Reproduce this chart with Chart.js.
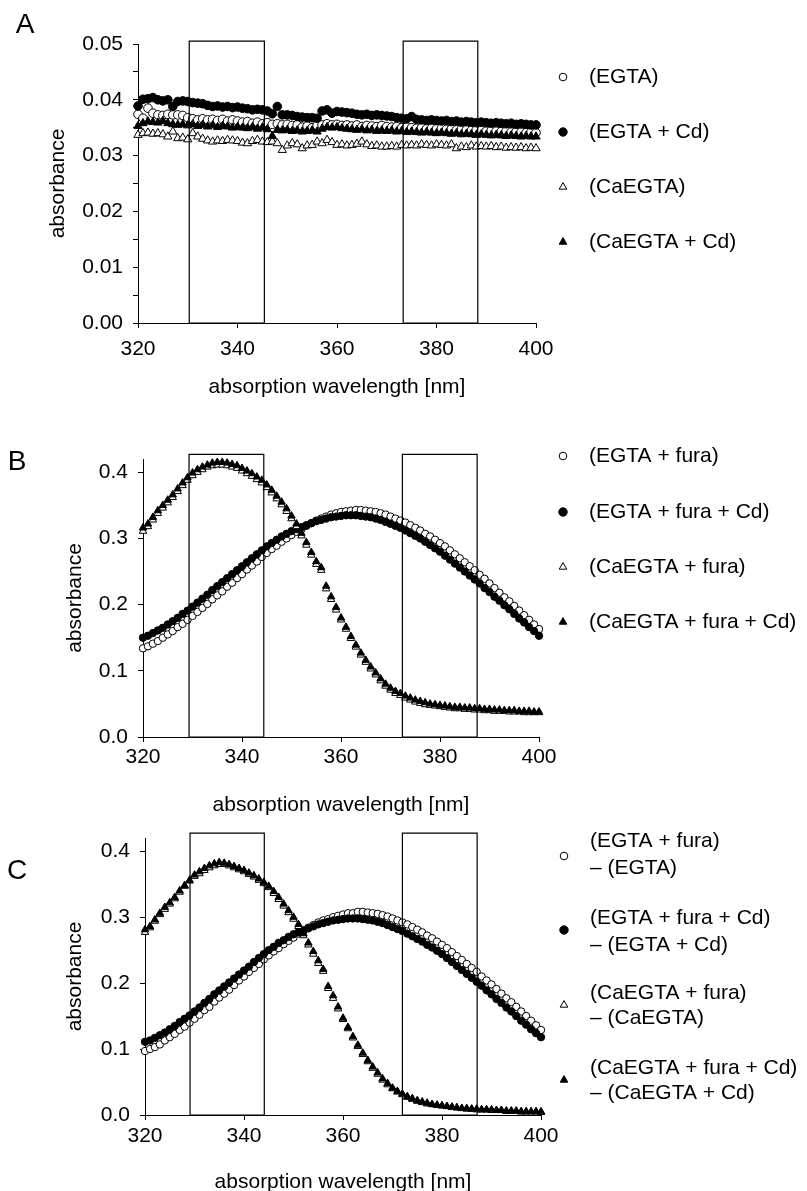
<!DOCTYPE html>
<html>
<head>
<meta charset="utf-8">
<script src="https://cdn.jsdelivr.net/npm/chart.js@4"></script>
<style>
  html, body { margin: 0; padding: 0; background: #fff; overflow: hidden; }
  #page { position: relative; width: 807px; height: 1191px; overflow: hidden; }
  canvas { position: absolute; left: 0; }
</style>
</head>
<body>
<div id="page">
  <canvas id="panelA" width="807" height="400" style="top:0px"></canvas>
  <canvas id="panelB" width="807" height="418" style="top:400px"></canvas>
  <canvas id="panelC" width="807" height="405" style="top:790px"></canvas>
</div>
<script>
// wavelengths, 1 nm steps
const wavelength = [
  320, 321, 322, 323, 324, 325, 326, 327, 328, 329,
  330, 331, 332, 333, 334, 335, 336, 337, 338, 339,
  340, 341, 342, 343, 344, 345, 346, 347, 348, 349,
  350, 351, 352, 353, 354, 355, 356, 357, 358, 359,
  360, 361, 362, 363, 364, 365, 366, 367, 368, 369,
  370, 371, 372, 373, 374, 375, 376, 377, 378, 379,
  380, 381, 382, 383, 384, 385, 386, 387, 388, 389,
  390, 391, 392, 393, 394, 395, 396, 397, 398, 399,
  400
];

// panel A: buffers without fura
const aEGTA = [
  0.0374, 0.0367, 0.0385, 0.0376, 0.0373, 0.0372, 0.0374, 0.0373, 0.0373, 0.0372,
  0.0368, 0.0366, 0.0364, 0.0366, 0.0364, 0.0365, 0.0363, 0.0365, 0.0362, 0.0364,
  0.0362, 0.0360, 0.0361, 0.0358, 0.0360, 0.0357, 0.0359, 0.0356, 0.0357, 0.0355,
  0.0356, 0.0354, 0.0355, 0.0351, 0.0353, 0.0350, 0.0354, 0.0355, 0.0357, 0.0355,
  0.0356, 0.0354, 0.0355, 0.0353, 0.0355, 0.0352, 0.0354, 0.0353, 0.0352, 0.0354,
  0.0352, 0.0351, 0.0352, 0.0350, 0.0351, 0.0350, 0.0349, 0.0350, 0.0348, 0.0349,
  0.0348, 0.0349, 0.0347, 0.0348, 0.0346, 0.0347, 0.0346, 0.0345, 0.0346, 0.0345,
  0.0344, 0.0345, 0.0344, 0.0343, 0.0344, 0.0342, 0.0343, 0.0342, 0.0341, 0.0342,
  0.0341
];
const aEGTACd = [
  0.0389, 0.0401, 0.0402, 0.0404, 0.0400, 0.0398, 0.0400, 0.0388, 0.0397, 0.0398,
  0.0397, 0.0395, 0.0394, 0.0393, 0.0390, 0.0388, 0.0389, 0.0387, 0.0388, 0.0386,
  0.0387, 0.0385, 0.0384, 0.0382, 0.0383, 0.0382, 0.0380, 0.0375, 0.0388, 0.0373,
  0.0373, 0.0372, 0.0370, 0.0369, 0.0368, 0.0368, 0.0367, 0.0380, 0.0382, 0.0376,
  0.0379, 0.0378, 0.0377, 0.0376, 0.0374, 0.0373, 0.0374, 0.0372, 0.0373, 0.0372,
  0.0371, 0.0370, 0.0368, 0.0367, 0.0366, 0.0370, 0.0365, 0.0364, 0.0363, 0.0364,
  0.0363, 0.0362, 0.0363, 0.0361, 0.0362, 0.0360, 0.0361, 0.0360, 0.0359, 0.0360,
  0.0359, 0.0358, 0.0359, 0.0358, 0.0357, 0.0358, 0.0356, 0.0357, 0.0356, 0.0355,
  0.0355
];
const aCaEGTA = [
  0.0337, 0.0340, 0.0341, 0.0339, 0.0340, 0.0338, 0.0334, 0.0343, 0.0331, 0.0332,
  0.0329, 0.0340, 0.0334, 0.0330, 0.0327, 0.0325, 0.0327, 0.0326, 0.0328, 0.0327,
  0.0326, 0.0323, 0.0322, 0.0326, 0.0328, 0.0325, 0.0324, 0.0325, 0.0322, 0.0310,
  0.0318, 0.0322, 0.0320, 0.0313, 0.0318, 0.0319, 0.0325, 0.0322, 0.0328, 0.0324,
  0.0319, 0.0320, 0.0318, 0.0319, 0.0321, 0.0325, 0.0320, 0.0317, 0.0318, 0.0316,
  0.0316, 0.0317, 0.0316, 0.0319, 0.0318, 0.0319, 0.0318, 0.0320, 0.0319, 0.0318,
  0.0320, 0.0319, 0.0318, 0.0320, 0.0313, 0.0316, 0.0315, 0.0318, 0.0316, 0.0317,
  0.0316, 0.0317, 0.0315, 0.0316, 0.0314, 0.0315, 0.0314, 0.0315, 0.0313, 0.0314,
  0.0313
];
const aCaEGTACd = [
  0.0353, 0.0358, 0.0361, 0.0360, 0.0359, 0.0362, 0.0358, 0.0356, 0.0355, 0.0356,
  0.0354, 0.0356, 0.0353, 0.0355, 0.0352, 0.0354, 0.0351, 0.0353, 0.0352, 0.0350,
  0.0351, 0.0350, 0.0349, 0.0351, 0.0348, 0.0350, 0.0347, 0.0335, 0.0346, 0.0345,
  0.0346, 0.0344, 0.0345, 0.0343, 0.0344, 0.0345, 0.0343, 0.0348, 0.0351, 0.0350,
  0.0351, 0.0349, 0.0348, 0.0347, 0.0346, 0.0347, 0.0345, 0.0346, 0.0344, 0.0345,
  0.0344, 0.0345, 0.0343, 0.0344, 0.0342, 0.0343, 0.0342, 0.0341, 0.0342, 0.0341,
  0.0340, 0.0341, 0.0340, 0.0339, 0.0340, 0.0338, 0.0339, 0.0338, 0.0337, 0.0338,
  0.0337, 0.0336, 0.0337, 0.0336, 0.0335, 0.0336, 0.0335, 0.0334, 0.0335, 0.0334,
  0.0334
];

// panel B: buffers with fura
const bEGTAFura = [
  0.134, 0.137, 0.141, 0.145, 0.150, 0.155, 0.160, 0.166, 0.171, 0.177,
  0.183, 0.189, 0.195, 0.201, 0.208, 0.214, 0.220, 0.227, 0.233, 0.240,
  0.246, 0.253, 0.259, 0.265, 0.272, 0.278, 0.284, 0.289, 0.295, 0.300,
  0.305, 0.310, 0.314, 0.319, 0.323, 0.327, 0.330, 0.333, 0.336, 0.338,
  0.340, 0.341, 0.342, 0.343, 0.343, 0.342, 0.341, 0.340, 0.338, 0.336,
  0.333, 0.330, 0.327, 0.324, 0.320, 0.316, 0.312, 0.307, 0.303, 0.298,
  0.293, 0.288, 0.282, 0.276, 0.270, 0.264, 0.258, 0.252, 0.245, 0.239,
  0.232, 0.225, 0.218, 0.211, 0.205, 0.198, 0.191, 0.184, 0.177, 0.170,
  0.163
];
const bEGTAFuraCd = [
  0.150, 0.153, 0.157, 0.161, 0.165, 0.170, 0.175, 0.180, 0.186, 0.191,
  0.197, 0.203, 0.209, 0.215, 0.222, 0.228, 0.234, 0.240, 0.246, 0.252,
  0.258, 0.264, 0.270, 0.276, 0.282, 0.288, 0.293, 0.298, 0.303, 0.307,
  0.311, 0.314, 0.317, 0.320, 0.323, 0.326, 0.328, 0.330, 0.332, 0.333,
  0.334, 0.335, 0.335, 0.335, 0.334, 0.333, 0.332, 0.330, 0.328, 0.325,
  0.322, 0.319, 0.316, 0.312, 0.308, 0.304, 0.300, 0.295, 0.290, 0.285,
  0.280, 0.274, 0.268, 0.262, 0.256, 0.250, 0.244, 0.238, 0.232, 0.225,
  0.219, 0.212, 0.206, 0.199, 0.193, 0.186, 0.179, 0.173, 0.166, 0.160,
  0.153
];
const bCaEGTAFura = [
  0.311, 0.318, 0.328, 0.338, 0.346, 0.354, 0.362, 0.371, 0.380, 0.388,
  0.395, 0.400, 0.404, 0.408, 0.410, 0.411, 0.411, 0.410, 0.408, 0.406,
  0.402, 0.398, 0.394, 0.389, 0.384, 0.377, 0.369, 0.360, 0.351, 0.341,
  0.330, 0.318, 0.304, 0.290, 0.275, 0.261, 0.252, 0.224, 0.208, 0.192,
  0.177, 0.163, 0.149, 0.136, 0.124, 0.113, 0.103, 0.094, 0.085, 0.077,
  0.071, 0.066, 0.063, 0.059, 0.056, 0.053, 0.051, 0.049, 0.048, 0.047,
  0.046, 0.045, 0.044, 0.043, 0.043, 0.042, 0.042, 0.041, 0.041, 0.040,
  0.040, 0.039, 0.039, 0.039, 0.038, 0.038, 0.038, 0.037, 0.037, 0.037,
  0.037
];
const bCaEGTAFuraCd = [
  0.316, 0.322, 0.332, 0.342, 0.350, 0.358, 0.366, 0.375, 0.384, 0.392,
  0.399, 0.404, 0.408, 0.411, 0.414, 0.415, 0.415, 0.414, 0.412, 0.410,
  0.406, 0.402, 0.398, 0.393, 0.388, 0.381, 0.373, 0.364, 0.355, 0.345,
  0.334, 0.322, 0.308, 0.294, 0.279, 0.265, 0.256, 0.228, 0.212, 0.196,
  0.180, 0.166, 0.152, 0.139, 0.127, 0.116, 0.106, 0.097, 0.088, 0.080,
  0.074, 0.069, 0.066, 0.062, 0.059, 0.056, 0.054, 0.052, 0.050, 0.049,
  0.048, 0.047, 0.046, 0.045, 0.045, 0.044, 0.044, 0.043, 0.043, 0.042,
  0.042, 0.041, 0.041, 0.040, 0.040, 0.040, 0.039, 0.039, 0.039, 0.038,
  0.038
];

// panel C: fura spectra minus buffer
const cEGTA = [
  0.097, 0.100, 0.103, 0.107, 0.113, 0.118, 0.123, 0.129, 0.134, 0.140,
  0.146, 0.152, 0.159, 0.164, 0.172, 0.178, 0.184, 0.190, 0.197, 0.204,
  0.210, 0.217, 0.223, 0.229, 0.236, 0.242, 0.248, 0.253, 0.259, 0.264,
  0.269, 0.275, 0.279, 0.284, 0.288, 0.292, 0.295, 0.297, 0.300, 0.302,
  0.304, 0.306, 0.306, 0.308, 0.308, 0.307, 0.306, 0.305, 0.303, 0.301,
  0.298, 0.295, 0.292, 0.289, 0.285, 0.281, 0.277, 0.272, 0.268, 0.263,
  0.258, 0.253, 0.247, 0.241, 0.235, 0.229, 0.223, 0.217, 0.210, 0.204,
  0.198, 0.191, 0.184, 0.177, 0.171, 0.164, 0.157, 0.150, 0.143, 0.136,
  0.129
];
const cEGTACd = [
  0.111, 0.113, 0.117, 0.121, 0.125, 0.130, 0.135, 0.141, 0.146, 0.151,
  0.157, 0.163, 0.170, 0.176, 0.183, 0.189, 0.195, 0.201, 0.207, 0.213,
  0.219, 0.225, 0.232, 0.238, 0.244, 0.250, 0.255, 0.261, 0.265, 0.270,
  0.274, 0.277, 0.280, 0.283, 0.286, 0.289, 0.291, 0.293, 0.295, 0.296,
  0.297, 0.298, 0.298, 0.298, 0.297, 0.296, 0.295, 0.293, 0.291, 0.288,
  0.285, 0.282, 0.279, 0.275, 0.271, 0.267, 0.263, 0.258, 0.254, 0.249,
  0.244, 0.238, 0.232, 0.226, 0.220, 0.214, 0.208, 0.202, 0.196, 0.189,
  0.183, 0.176, 0.170, 0.163, 0.157, 0.150, 0.143, 0.137, 0.130, 0.124,
  0.118
];
const cCaEGTA = [
  0.277, 0.284, 0.294, 0.304, 0.312, 0.320, 0.328, 0.338, 0.347, 0.355,
  0.362, 0.366, 0.371, 0.375, 0.378, 0.380, 0.380, 0.378, 0.375, 0.372,
  0.369, 0.365, 0.361, 0.356, 0.351, 0.345, 0.336, 0.327, 0.317, 0.307,
  0.297, 0.286, 0.272, 0.258, 0.244, 0.230, 0.218, 0.192, 0.177, 0.161,
  0.145, 0.131, 0.117, 0.104, 0.092, 0.081, 0.071, 0.062, 0.053, 0.046,
  0.040, 0.035, 0.031, 0.027, 0.024, 0.021, 0.019, 0.017, 0.016, 0.015,
  0.014, 0.013, 0.012, 0.011, 0.010, 0.009, 0.009, 0.008, 0.008, 0.008,
  0.007, 0.007, 0.007, 0.006, 0.006, 0.006, 0.005, 0.005, 0.005, 0.005,
  0.004
];
const cCaEGTACd = [
  0.281, 0.286, 0.296, 0.306, 0.315, 0.322, 0.330, 0.340, 0.348, 0.356,
  0.364, 0.369, 0.374, 0.378, 0.381, 0.383, 0.382, 0.380, 0.377, 0.374,
  0.371, 0.367, 0.363, 0.358, 0.353, 0.347, 0.339, 0.330, 0.320, 0.310,
  0.300, 0.289, 0.275, 0.261, 0.248, 0.234, 0.221, 0.195, 0.181, 0.164,
  0.147, 0.133, 0.119, 0.106, 0.094, 0.083, 0.073, 0.064, 0.055, 0.048,
  0.041, 0.036, 0.032, 0.028, 0.025, 0.022, 0.020, 0.018, 0.016, 0.015,
  0.014, 0.013, 0.012, 0.011, 0.010, 0.010, 0.009, 0.009, 0.008, 0.008,
  0.008, 0.007, 0.007, 0.006, 0.006, 0.006, 0.005, 0.005, 0.005, 0.005,
  0.005
];

// excitation windows drawn as boxes: [left, right] in nm, plus box top
const boxesA = [[330.3, 345.4], [373.3, 388.3]];
const boxesB = [[329.3, 344.4], [372.4, 387.5]];
const boxesC = [[329.1, 344.1], [372.0, 387.1]];
const boxTopA = 0.0505;
const boxTopB = 0.427;
const boxTopC = 0.4275;

const xTicks = [320, 340, 360, 380, 400];

const legendA = [['(EGTA)'], ['(EGTA + Cd)'], ['(CaEGTA)'], ['(CaEGTA + Cd)']];
const legendB = [['(EGTA + fura)'], ['(EGTA + fura + Cd)'], ['(CaEGTA + fura)'], ['(CaEGTA + fura + Cd)']];
const legendC = [
  ['(EGTA + fura)', '\u2013 (EGTA)'],
  ['(EGTA + fura + Cd)', '\u2013 (EGTA + Cd)'],
  ['(CaEGTA + fura)', '\u2013 (CaEGTA)'],
  ['(CaEGTA + fura + Cd)', '\u2013 (CaEGTA + Cd)']
];

const FONT = '"Liberation Sans", Arial, sans-serif';
Chart.defaults.font.family = FONT;
Chart.defaults.font.size = 21;
Chart.defaults.color = '#000';

const markers = [
  { pointStyle: 'circle', fill: '#fff' },
  { pointStyle: 'circle', fill: '#000' },
  { pointStyle: 'triangle', fill: '#fff' },
  { pointStyle: 'triangle', fill: '#000' }
];

function drawMarker(ctx, style, fill, x, y, r) {
  ctx.beginPath();
  if (style === 'circle') {
    ctx.arc(x, y, r, 0, Math.PI * 2);
  } else {
    for (let k = 0; k < 3; k++) {
      const a = k * 2 * Math.PI / 3;
      const px = x + Math.sin(a) * r;
      const py = y - Math.cos(a) * r;
      if (k === 0) ctx.moveTo(px, py); else ctx.lineTo(px, py);
    }
    ctx.closePath();
  }
  ctx.fillStyle = fill;
  ctx.fill();
  ctx.lineWidth = 1;
  ctx.strokeStyle = '#000';
  ctx.stroke();
}

// panel letter + legend at the right
const panelDecor = {
  id: 'panelDecor',
  afterDraw(chart, args, opts) {
    const ctx = chart.ctx;
    ctx.save();
    ctx.fillStyle = '#000';
    ctx.textBaseline = 'middle';
    ctx.textAlign = 'center';
    ctx.font = '28px ' + FONT;
    ctx.fillText(opts.letter, opts.letterX, opts.letterY);
    ctx.textAlign = 'left';
    opts.items.forEach((lines, i) => {
      const m = markers[i];
      const r = m.pointStyle === 'circle' ? (m.fill === '#000' ? 4.2 : 3.8) : 4.4;
      drawMarker(ctx, m.pointStyle, m.fill, opts.markerX, opts.markerY[i], r);
      ctx.fillStyle = '#000';
      ctx.font = '21px ' + FONT;
      lines.forEach((t, j) => ctx.fillText(t, opts.textX, opts.lineY[i][j]));
    });
    ctx.restore();
  }
};

function boxData(boxes, top) {
  return boxes.map(([l, r]) => [
    { x: l, y: 0 }, { x: l, y: top }, { x: r, y: top }, { x: r, y: 0 }, { x: l, y: 0 }
  ]);
}

function makePanel(id, cfg) {
  const series = cfg.series.map((vals, i) => ({
    label: cfg.legend[i].join(' '),
    data: wavelength.map((w, k) => ({ x: w, y: vals[k] })),
    pointStyle: markers[i].pointStyle,
    backgroundColor: markers[i].fill,
    borderColor: '#000',
    borderWidth: 1,
    pointRadius: markers[i].pointStyle === 'circle' ? cfg.circleR : cfg.triR,
    showLine: false,
    clip: false,
    order: 10 - i
  }));
  const boxes = boxData(cfg.boxes, cfg.boxTop).map((pts) => ({
    data: pts,
    showLine: true,
    borderColor: '#000',
    borderWidth: 1.2,
    pointRadius: 0,
    fill: false,
    clip: false,
    order: 0
  }));

  new Chart(document.getElementById(id), {
    type: 'scatter',
    data: { datasets: series.concat(boxes) },
    plugins: [panelDecor],
    options: {
      responsive: false,
      animation: false,
      devicePixelRatio: 1,
      events: [],
      layout: { padding: { left: 0, right: 807 - cfg.area.right, top: cfg.area.top, bottom: 0 } },
      plugins: {
        legend: { display: false },
        tooltip: { enabled: false },
        panelDecor: cfg.decor
      },
      scales: {
        x: {
          type: 'linear',
          min: 320,
          max: 400,
          afterBuildTicks: (axis) => { axis.ticks = xTicks.map((v) => ({ value: v })); },
          afterFit: (axis) => { axis.height = cfg.canvasH - cfg.area.bottom; },
          ticks: { padding: cfg.xPad, callback: (v) => String(v), maxRotation: 0, autoSkip: false },
          grid: { drawOnChartArea: false, drawTicks: true, tickLength: 5, color: '#000' },
          border: { display: true, color: '#000', width: 1 },
          title: { display: true, text: 'absorption wavelength [nm]', padding: { top: 0, bottom: 0 } }
        },
        y: {
          type: 'linear',
          min: 0,
          max: cfg.yMax,
          afterFit: (axis) => { axis.width = cfg.area.left; },
          ticks: {
            stepSize: cfg.yStep,
            includeBounds: false,
            autoSkip: false,
            padding: 10,
            callback: cfg.yLabel
          },
          grid: { drawOnChartArea: false, drawTicks: true, tickLength: 5, color: '#000' },
          border: { display: true, color: '#000', width: 1 },
          title: { display: true, text: 'absorbance', padding: { top: cfg.yTitleX - 12.6, bottom: 0 } }
        }
      }
    }
  });
}

makePanel('panelA', {
  series: [aEGTA, aEGTACd, aCaEGTA, aCaEGTACd],
  legend: legendA,
  boxes: boxesA,
  boxTop: boxTopA,
  canvasH: 400,
  area: { left: 138, right: 536, top: 44, bottom: 323 },
  yMax: 0.05,
  yStep: 0.005,
  yLabel: (v) => (Math.abs(v * 100 - Math.round(v * 100)) < 1e-6 ? v.toFixed(2) : ''),
  yTitleX: 58,
  xPad: 9,
  circleR: 4.3,
  triR: 4.8,
  decor: {
    letter: 'A', letterX: 25, letterY: 25,
    items: legendA, markerX: 563, textX: 589,
    markerY: [77, 132, 187, 242],
    lineY: [[77], [132], [187], [242]]
  }
});

makePanel('panelB', {
  series: [bEGTAFura, bEGTAFuraCd, bCaEGTAFura, bCaEGTAFuraCd],
  legend: legendB,
  boxes: boxesB,
  boxTop: boxTopB,
  canvasH: 418,
  area: { left: 143, right: 539, top: 59, bottom: 337 },
  yMax: 0.42,
  yStep: 0.1,
  yLabel: (v) => v.toFixed(1),
  yTitleX: 75,
  xPad: 3,
  circleR: 3.7,
  triR: 4.3,
  decor: {
    letter: 'B', letterX: 17, letterY: 62,
    items: legendB, markerX: 563, textX: 589,
    markerY: [56, 112, 167, 222],
    lineY: [[56], [112], [167], [222]]
  }
});

makePanel('panelC', {
  series: [cEGTA, cEGTACd, cCaEGTA, cCaEGTACd],
  legend: legendC,
  boxes: boxesC,
  boxTop: boxTopC,
  canvasH: 405,
  area: { left: 145, right: 541, top: 48, bottom: 325 },
  yMax: 0.42,
  yStep: 0.1,
  yLabel: (v) => v.toFixed(1),
  yTitleX: 75,
  xPad: 4,
  circleR: 3.7,
  triR: 4.3,
  decor: {
    letter: 'C', letterX: 17, letterY: 81,
    items: legendC, markerX: 564, textX: 590,
    markerY: [66, 140, 215, 290],
    lineY: [[51, 78], [128, 155], [203, 228], [278, 303]]
  }
});
</script>
</body>
</html>
